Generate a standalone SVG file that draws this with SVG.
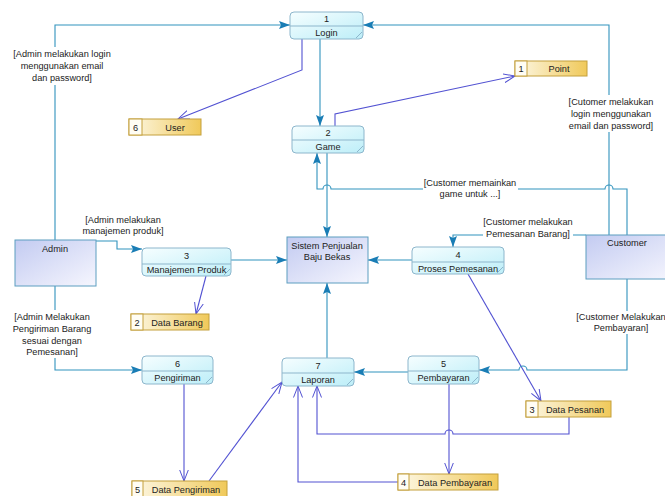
<svg xmlns="http://www.w3.org/2000/svg" width="665" height="496" viewBox="0 0 665 496">
<defs>
<linearGradient id="gp" x1="0" y1="0" x2="1" y2="1"><stop offset="0" stop-color="#f6feff"/><stop offset="1" stop-color="#bdeef8"/></linearGradient>
<linearGradient id="ge" x1="0" y1="0" x2="1" y2="1"><stop offset="0" stop-color="#c3cbf1"/><stop offset="1" stop-color="#f6f6fe"/></linearGradient>
<linearGradient id="gs" x1="0" y1="0" x2="1" y2="0"><stop offset="0" stop-color="#fdf8e6"/><stop offset="1" stop-color="#f0c95a"/></linearGradient>
<marker id="a" viewBox="0 0 11 8" refX="11" refY="4" markerWidth="11" markerHeight="8" orient="auto" markerUnits="userSpaceOnUse"><path d="M0,0 L11,4 L0,8 L2,4 z" fill="#1a7db5"/></marker>
<marker id="o" viewBox="0 0 12 10" refX="11.5" refY="5" markerWidth="12" markerHeight="10" orient="auto" markerUnits="userSpaceOnUse"><path d="M0,0.5 L11.5,5 L0,9.5" fill="none" stroke="#5252d2" stroke-width="1"/></marker>
<style>
text{font-family:"Liberation Sans",Arial,sans-serif;font-size:9.2px;fill:#222}
.c{text-anchor:middle}
.pb{fill:url(#gp);stroke:#8db6cc;stroke-width:1}
.pl{stroke:#8db6cc;stroke-width:1;fill:none}
.eb{fill:url(#ge);stroke:#5c9ec0;stroke-width:1}
.sb{fill:url(#gs);stroke:#c4a03c;stroke-width:1}
.sn{fill:#fffdf4;stroke:#c4a03c;stroke-width:1}
.t{fill:none;stroke:#3193bd;stroke-width:1.1;marker-end:url(#a)}
.p{fill:none;stroke:#5252d2;stroke-width:1.1;marker-end:url(#o)}
.bg{fill:#fff}
</style>
</defs>
<rect width="665" height="496" fill="#fff"/>

<g id="connectors">
<path class="t" d="M55,240 V25 H290"/>
<path class="t" d="M609,235 V25 H363"/>
<path class="t" d="M320,39 V126"/>
<path class="p" d="M302,39 V70 L178,119"/>
<path class="p" d="M335,126 V114 L515,76"/>
<path class="t" d="M627,235 V189 H613 A4,4 0 0 0 605,189 H331 A4,4 0 0 0 323,189 H317 V153"/>
<path class="t" d="M327,153 V237"/>
<path class="t" d="M96,241 H117 V249 H142"/>
<path class="t" d="M231,260 H287"/>
<path class="p" d="M206,276 L196,314"/>
<path class="t" d="M412,260 H368"/>
<path class="t" d="M586,235 H453 V247"/>
<path class="p" d="M468,274 L541,401"/>
<path class="t" d="M627,279 V370 H527 A4,4 0 0 0 519,370 H479"/>
<path class="t" d="M408,372 H354"/>
<path class="t" d="M327,358 V283"/>
<path class="t" d="M55,286 V370 H142"/>
<path class="p" d="M184,384 V481"/>
<path class="p" d="M209,481 L282,382"/>
<path class="p" d="M569,417 V434 H453 A4,4 0 0 0 445,434 H317 V386"/>
<path class="p" d="M449,384 V474"/>
<path class="p" d="M398,482 H298 V386"/>
</g>

<g id="labels">
<rect class="bg" x="13" y="47" width="100" height="38"/>
<text class="c" x="62" y="57">[Admin melakukan login</text>
<text class="c" x="62" y="69">menggunakan email</text>
<text class="c" x="62" y="81">dan password]</text>
<rect class="bg" x="566" y="95" width="90" height="37"/>
<text class="c" x="611" y="105">[Cutomer melakukan</text>
<text class="c" x="611" y="117">login menggunakan</text>
<text class="c" x="611" y="129">email dan password]</text>
<rect class="bg" x="423" y="176" width="95" height="24"/>
<text class="c" x="470" y="186">[Customer memainkan</text>
<text class="c" x="470" y="197">game untuk ...]</text>
<rect class="bg" x="82" y="214" width="83" height="24"/>
<text class="c" x="123" y="223">[Admin melakukan</text>
<text class="c" x="123" y="234">manajemen produk]</text>
<rect class="bg" x="483" y="215" width="90" height="25"/>
<text class="c" x="528" y="225">[Customer melakukan</text>
<text class="c" x="528" y="237">Pemesanan Barang]</text>
<rect class="bg" x="577" y="311" width="88" height="23"/>
<text class="c" x="621" y="320">[Customer Melakukan</text>
<text class="c" x="621" y="331">Pembayaran]</text>
<rect class="bg" x="12" y="310" width="82" height="48"/>
<text class="c" x="52" y="320">[Admin Melakukan</text>
<text class="c" x="52" y="332">Pengiriman Barang</text>
<text class="c" x="52" y="344">sesuai dengan</text>
<text class="c" x="52" y="355">Pemesanan]</text>
</g>

<g id="admin"><rect class="eb" x="15" y="240" width="81" height="46"/><text class="c" x="55" y="252">Admin</text></g>
<g id="customer"><rect class="eb" x="586" y="235" width="90" height="44"/><text class="c" x="627" y="246">Customer</text></g>
<g id="sistem"><rect class="eb" x="287" y="237" width="81" height="46"/><text class="c" x="327" y="249">Sistem Penjualan</text><text class="c" x="327" y="260">Baju Bekas</text></g>

<g id="p1"><rect class="pb" x="290" y="12" width="73" height="27" rx="4"/><path class="pl" d="M290,26 H363 M356,38 L362,32"/><text class="c" x="326.5" y="22">1</text><text class="c" x="326.5" y="36">Login</text></g>
<g id="p2"><rect class="pb" x="292" y="126" width="72" height="27" rx="4"/><path class="pl" d="M292,140 H364 M357,152 L363,146"/><text class="c" x="328" y="136">2</text><text class="c" x="328" y="150">Game</text></g>
<g id="p3"><rect class="pb" x="142" y="248" width="89" height="28" rx="4"/><path class="pl" d="M142,264 H231 M224,275 L230,269"/><text class="c" x="186.5" y="259">3</text><text class="c" x="186.5" y="273">Manajemen Produk</text></g>
<g id="p4"><rect class="pb" x="412" y="247" width="92" height="27" rx="4"/><path class="pl" d="M412,262 H504 M497,273 L503,267"/><text class="c" x="458" y="258">4</text><text class="c" x="458" y="272">Proses Pemesanan</text></g>
<g id="p5"><rect class="pb" x="408" y="356" width="71" height="28" rx="4"/><path class="pl" d="M408,371 H479 M472,383 L478,377"/><text class="c" x="443.5" y="367">5</text><text class="c" x="443.5" y="381">Pembayaran</text></g>
<g id="p6"><rect class="pb" x="142" y="356" width="71" height="28" rx="4"/><path class="pl" d="M142,371 H213 M206,383 L212,377"/><text class="c" x="177.5" y="367">6</text><text class="c" x="177.5" y="381">Pengiriman</text></g>
<g id="p7"><rect class="pb" x="282" y="358" width="72" height="28" rx="4"/><path class="pl" d="M282,373 H354 M347,385 L353,379"/><text class="c" x="318" y="369">7</text><text class="c" x="318" y="383">Laporan</text></g>

<g id="s1"><rect class="sb" x="515" y="61" width="72" height="15"/><rect class="sn" x="515" y="61" width="12" height="15"/><text class="c" x="521" y="72">1</text><text class="c" x="559" y="72">Point</text></g>
<g id="s6"><rect class="sb" x="129" y="119" width="72" height="16"/><rect class="sn" x="129" y="119" width="13" height="16"/><text class="c" x="135.5" y="131">6</text><text class="c" x="175" y="131">User</text></g>
<g id="s2"><rect class="sb" x="131" y="314" width="78" height="16"/><rect class="sn" x="131" y="314" width="12" height="16"/><text class="c" x="137" y="326">2</text><text class="c" x="177" y="326">Data Barang</text></g>
<g id="s5"><rect class="sb" x="132" y="481" width="95" height="16"/><rect class="sn" x="132" y="481" width="11" height="16"/><text class="c" x="137.5" y="493">5</text><text class="c" x="186" y="493">Data Pengiriman</text></g>
<g id="s3"><rect class="sb" x="526" y="401" width="85" height="16"/><rect class="sn" x="526" y="401" width="12" height="16"/><text class="c" x="532" y="413">3</text><text class="c" x="575" y="413">Data Pesanan</text></g>
<g id="s4"><rect class="sb" x="398" y="474" width="100" height="16"/><rect class="sn" x="398" y="474" width="11" height="16"/><text class="c" x="403.5" y="486">4</text><text class="c" x="455" y="486">Data Pembayaran</text></g>
</svg>
